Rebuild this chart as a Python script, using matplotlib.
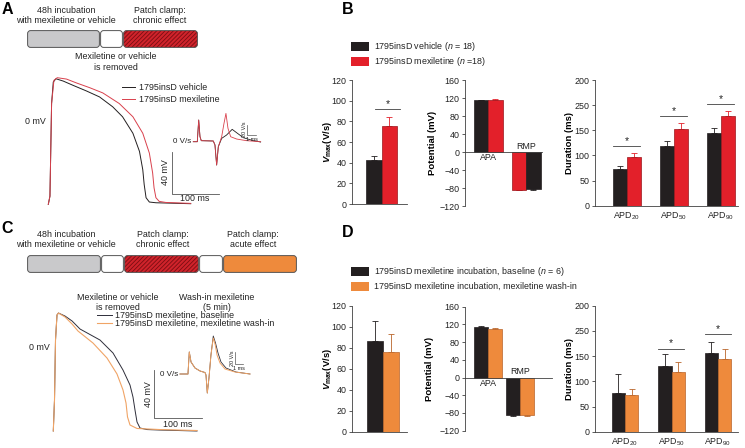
import matplotlib
matplotlib.use('Agg')
import matplotlib.pyplot as plt
from matplotlib.patches import FancyBboxPatch, Rectangle
from matplotlib.lines import Line2D

W, H = 745, 448
plt.rcParams['font.family'] = ['Liberation Sans', 'DejaVu Sans']
plt.rcParams['mathtext.fontset'] = 'custom'
plt.rcParams['mathtext.rm'] = 'Liberation Sans'
plt.rcParams['mathtext.it'] = 'Liberation Sans:italic:bold'
plt.rcParams['mathtext.bf'] = 'Liberation Sans:bold'
plt.rcParams['mathtext.sf'] = 'Liberation Sans:italic'
plt.rcParams['hatch.linewidth'] = 0.6

# ------------------------------------------------------------------ data
# schematic timelines (segment widths, kinds)
tlA_widths = [73, 23, 75]
tlA_kinds = ['grey', 'white', 'hatch']
tlC_widths = [74, 23, 75, 24, 74]
tlC_kinds = ['grey', 'white', 'hatch', 'white', 'orange']

# Panel A action potentials (ms, mV)
apA_veh_t = [0, 3.5, 7, 10.6, 16.2, 31.7, 52.8, 81, 109, 137, 158, 180, 194, 201, 204, 208, 215, 229, 303]
apA_veh_v = [-78.7, -70.9, 17.3, 37.8, 40.9, 38.7, 34.6, 29.3, 23.6, 14.2, 4.7, -11, -28.3, -45.7, -59.8, -72.4, -76.5, -77.2, -78.1]
apA_mex_t = [0, 3.5, 7, 12, 19, 38.7, 60, 88, 116, 151, 180, 201, 215, 222, 225, 229, 236, 250, 303]
apA_mex_v = [-78.7, -70.9, 17.3, 39.4, 41.9, 40.6, 36.9, 32.4, 27.4, 17.3, 4.7, -11, -29.9, -48.8, -63, -72.4, -75.9, -76.9, -77.8]

# Panel A dV/dt inset (ms, V/s)
dvA_veh_t = [0, 0.43, 0.58, 0.72, 0.86, 2.15, 2.33, 2.51, 2.69, 3.05, 3.58, 4.18, 4.66, 5.38, 6.45, 7.24]
dvA_veh_v = [0, 0, 40.5, 9.3, 1.9, 1.3, -6.2, -43.6, -9.3, 6.2, 12.5, 23.1, 16.8, 7.5, 1.9, -0.6]
dvA_mex_t = [0, 0.43, 0.58, 0.72, 0.86, 2.15, 2.33, 2.51, 2.69, 3.05, 3.3, 3.51, 3.73, 4.02, 4.66, 5.73, 7.24]
dvA_mex_v = [0, 0, 40.5, 9.3, 1.9, 1.3, -6.2, -43.6, -9.3, 9.3, 34.2, 52.9, 24.9, 9.3, 5, 1.9, 0]

# Panel C action potentials (ms, mV)
apC_base_t = [0, 2.5, 4.6, 7.7, 10.8, 24.4, 39, 55.6, 97.3, 124.4, 145.2, 159.8, 166, 170.2, 174.4, 180.6, 195.2, 222.3, 299.4]
apC_base_v = [-70, -44.2, 5.8, 26.7, 28.3, 25.8, 21.7, 15, 5.8, -5, -19.2, -31.7, -41.7, -52.5, -62.5, -67.5, -68.8, -69.2, -70]
apC_wash_t = [0, 2.5, 4.6, 7.7, 10.8, 24.4, 39, 51.5, 82.7, 111.9, 132.7, 145.2, 151.5, 154.6, 159.8, 174.4, 222.3, 299.4]
apC_wash_v = [-70, -44.2, 5.8, 26.7, 28.3, 25, 19.2, 13.3, 3.3, -9.2, -22.5, -35.8, -46.7, -58.3, -65, -67.9, -68.8, -69.6]

# Panel C dV/dt inset (ms, V/s)
dvC_base_t = [0, 0.96, 1.12, 1.33, 1.81, 2.41, 3.01, 3.13, 3.29, 3.49, 3.73, 4.01, 4.28, 4.58, 4.94, 5.54, 6.75, 8.43]
dvC_base_v = [0, 0, 35.7, 19.4, 9.7, 4.9, 2.4, -1.6, -30.8, -6.5, 30.8, 61.6, 50.2, 34, 19.4, 9.7, 3.2, 0]
dvC_wash_t = [0, 0.96, 1.12, 1.33, 1.81, 2.41, 3.01, 3.13, 3.29, 3.49, 3.73, 4.01, 4.25, 4.46, 4.82, 5.42, 6.63, 8.43]
dvC_wash_v = [0, 0, 35.7, 19.4, 9.7, 4.9, 2.4, -1.6, -30.8, -6.5, 30.8, 58.3, 47, 30.8, 17.8, 8.1, 3.2, 0]

# Panel B bars
B_vmax = [43, 75]
B_vmax_err = [3, 9]
B_vmax_sig = 92
B_apa = [115, 116]
B_apa_err = [0.7, 1.0]
B_rmp = [-83.7, -82.2]          # mexiletine, vehicle (drawn in this order)
B_rmp_err = [1.3, 1.5]
B_apd_veh = [73, 119, 145]
B_apd_veh_err = [6.6, 9.2, 8.6]
B_apd_mex = [97, 153, 178]
B_apd_mex_err = [8, 11.3, 11.3]
B_apd_sig = [119, 178, 203]

# Panel D bars
D_vmax = [86, 76]
D_vmax_err = [19, 17]
D_apa = [115, 109]
D_apa_err = [2.4, 2.9]
D_rmp = [-83.5, -83.5]
D_rmp_err = [2.3, 2.3]
D_apd_base = [77, 131, 157]
D_apd_base_err = [37, 22.5, 21.5]
D_apd_wash = [73, 118, 144]
D_apd_wash_err = [12, 20.5, 20]
D_apd_sig = [None, 165, 194]

apd_labels = ['APD$_{20}$', 'APD$_{50}$', 'APD$_{90}$']
dur_ticks = [0, 50, 100, 150, 200, 250]
dur_ticklabels = ['0', '50', '100', '150', '250', '200']

# ------------------------------------------------------------------ style
BLACK = '#231f20'
RED = '#e3202a'
RED_EDGE = '#9a161c'
ORANGE = '#ee8a3c'
ORANGE_EDGE = '#b9652b'
GREY = '#c9c9cb'
TR_RED = '#d9404c'
TR_ORANGE = '#f0a466'
TR_DARK = '#2e2e3a'
SPINE = '#404040'
FS = 6.4

fig = plt.figure(figsize=(W / 100, H / 100), dpi=100)


def px_axes(x0, y0, x1, y1):
    return fig.add_axes([x0 / W, 1 - y1 / H, (x1 - x0) / W, (y1 - y0) / H])


def ftext(x, y, s, **kw):
    kw.setdefault('fontsize', FS)
    kw.setdefault('color', '#222222')
    return fig.text(x / W, 1 - y / H, s, **kw)


def fline(xs, ys, **kw):
    fig.add_artist(Line2D([x / W for x in xs], [1 - y / H for y in ys], **kw))


def frect(x0, y0, x1, y1, color):
    fig.add_artist(Rectangle((x0 / W, 1 - y1 / H), (x1 - x0) / W, (y1 - y0) / H,
                             transform=fig.transFigure, facecolor=color, edgecolor='none'))


def draw_timeline(x0, y0, y1, widths, kinds):
    total = sum(widths)
    ax = px_axes(x0, y0, x0 + total, y1)
    h = y1 - y0
    ax.set_xlim(0, total)
    ax.set_ylim(0, h)
    ax.set_axis_off()
    pos = 0
    for w, k in zip(widths, kinds):
        bs = 'round,pad=0,rounding_size=3'
        if k == 'hatch':
            p = FancyBboxPatch((pos + 0.6, 0.6), w - 1.2, h - 1.2, boxstyle=bs,
                               facecolor='#d0232b', edgecolor='#7a0d12', hatch='////////', lw=0)
            ax.add_patch(p)
        else:
            fc = {'grey': GREY, 'white': 'white', 'orange': ORANGE}[k]
            ax.add_patch(FancyBboxPatch((pos + 0.6, 0.6), w - 1.2, h - 1.2, boxstyle=bs,
                                        facecolor=fc, edgecolor='none'))
        ax.add_patch(FancyBboxPatch((pos + 0.6, 0.6), w - 1.2, h - 1.2, boxstyle=bs,
                                    facecolor='none', edgecolor='#555555', lw=0.7))
        pos += w


def style_axes(ax):
    for s in ['top', 'right']:
        ax.spines[s].set_visible(False)
    for s in ['left', 'bottom']:
        ax.spines[s].set_linewidth(0.6)
        ax.spines[s].set_color(SPINE)
    ax.tick_params(labelsize=FS, length=2.5, width=0.6, pad=1.5, color=SPINE, labelcolor='#222222')


def bars(ax, xs, vals, errs, width, fc, ec, errc, up=True):
    ax.bar(xs, vals, width=width, color=fc, edgecolor=ec, linewidth=0.5, zorder=2)
    z = [0] * len(vals)
    yerr = [z, errs] if up else [errs, z]
    ax.errorbar(xs, vals, yerr=yerr, fmt='none', ecolor=errc, elinewidth=0.6,
                capsize=2.0, capthick=0.6, zorder=1)


def sig(ax, x0, x1, y):
    ax.plot([x0, x1], [y, y], color=SPINE, lw=0.6)
    ax.text((x0 + x1) / 2, y, '*', ha='center', va='bottom', fontsize=7.5, color='#222222')


def vmax_axes(box, xc_px, unit, vals, errs, cols, edges, errcols, sigy=None):
    x0, y0, x1, y1 = box
    ax = px_axes(*box)
    style_axes(ax)
    ax.set_xlim((x0 - xc_px) / unit, (x1 - xc_px) / unit)
    ax.set_ylim(0, 120)
    ax.set_yticks(range(0, 121, 20))
    ax.set_xticks([])
    for i, xv in enumerate([-0.5, 0.5]):
        bars(ax, [xv], [vals[i]], [errs[i]], 1.0, cols[i], edges[i], errcols[i])
    if sigy is not None:
        sig(ax, -0.43, 1.2, sigy)
    ax.set_ylabel(r'$\mathit{V}_{\mathbf{max}}\mathbf{(V/s)}$', fontsize=6.8)
    ax.yaxis.set_label_coords(-0.33, 0.5)
    return ax


def pot_axes(box, apa_px, rmp_px, unit, apa, apa_err, rmp, rmp_err, apa_cols, rmp_cols):
    x0, y0, x1, y1 = box
    ax = px_axes(*box)
    style_axes(ax)
    ax.spines['bottom'].set_position(('data', 0))
    ax.set_xlim((x0 - apa_px) / unit, (x1 - apa_px) / unit)
    ax.set_ylim(-120, 160)
    ax.set_yticks(range(-120, 161, 40))
    ax.set_yticklabels(['\u2212120', '\u221280', '\u221240', '0', '40', '80', '120', '160'])
    ax.set_xticks([])
    rc = (rmp_px - apa_px) / unit
    for i, xv in enumerate([-0.5, 0.5]):
        fc, ec, erc = apa_cols[i]
        bars(ax, [xv], [apa[i]], [apa_err[i]], 1.0, fc, ec, erc)
        fc, ec, erc = rmp_cols[i]
        bars(ax, [rc + xv], [rmp[i]], [rmp_err[i]], 1.0, fc, ec, erc, up=False)
    ax.text(0, -3, 'APA', ha='center', va='top', fontsize=FS, color='#222222')
    ax.text(rc, 3, 'RMP', ha='center', va='bottom', fontsize=FS, color='#222222')
    ax.set_ylabel('Potential (mV)', fontsize=6.8, fontweight='bold')
    ax.yaxis.set_label_coords(-0.36, 0.5)
    return ax


def dur_axes(box, c0_px, unit, width, v1, e1, v2, e2, c1, c2, sigs):
    x0, y0, x1, y1 = box
    ax = px_axes(*box)
    style_axes(ax)
    ax.set_xlim((x0 - c0_px) / unit, (x1 - c0_px) / unit)
    ax.set_ylim(0, 250)
    ax.set_yticks(dur_ticks)
    ax.set_yticklabels(dur_ticklabels)
    xs = list(range(len(v1)))
    bars(ax, [x - width / 2 for x in xs], v1, e1, width, c1[0], c1[1], c1[2])
    bars(ax, [x + width / 2 for x in xs], v2, e2, width, c2[0], c2[1], c2[2])
    ax.set_xticks(xs)
    ax.set_xticklabels(apd_labels)
    ax.tick_params(axis='x', length=0, pad=3)
    for x, s in zip(xs, sigs):
        if s is not None:
            sig(ax, x - width * 1.0, x + width * 0.95, s)
    ax.set_ylabel('Duration (ms)', fontsize=6.8, fontweight='bold')
    ax.yaxis.set_label_coords(-0.15, 0.5)
    return ax


def trace_axes(box, t0_px, v0_px, px_per_t, px_per_v):
    x0, y0, x1, y1 = box
    ax = px_axes(*box)
    ax.set_axis_off()
    ax.set_xlim((x0 - t0_px) / px_per_t, (x1 - t0_px) / px_per_t)
    ax.set_ylim((v0_px - y1) / px_per_v, (v0_px - y0) / px_per_v)
    return ax


# ------------------------------------------------------------------ panel letters
for (x, y, s) in [(7, 9, 'A'), (348, 9, 'B'), (7, 228, 'C'), (348, 232, 'D')]:
    ftext(x, y, s, fontsize=11.5, fontweight='bold', ha='center', va='center', color='black')

# ------------------------------------------------------------------ panel A schematic
draw_timeline(27, 30, 48, tlA_widths, tlA_kinds)
ftext(66, 15.5, '48h incubation\nwith mexiletine or vehicle', ha='center', va='center', linespacing=1.25)
ftext(160, 15.5, 'Patch clamp:\nchronic effect', ha='center', va='center', linespacing=1.25)
ftext(116, 62, 'Mexiletine or vehicle\nis removed', ha='center', va='center', linespacing=1.25)

# panel A traces
axA = trace_axes((30, 70, 270, 215), 48.3, 121.7, 0.47, 1.05)
axA.plot(apA_veh_t, apA_veh_v, color=BLACK, lw=0.7)
axA.plot(apA_mex_t, apA_mex_v, color=TR_RED, lw=0.7)
axA.plot([262.6, 262.6, 362.6], [-28.6, -68.6, -68.6], color='#555555', lw=0.6)
ftext(46, 121.7, '0 mV', ha='right', va='center')
ftext(166, 172, '40 mV', ha='center', va='center', rotation=90)
ftext(195, 198, '100 ms', ha='center', va='center')
fline([122, 135], [87.3, 87.3], color=BLACK, lw=0.7)
fline([122, 135], [99.3, 99.3], color=TR_RED, lw=0.7)
ftext(139, 87.3, '1795insD vehicle', ha='left', va='center')
ftext(139, 99.3, '1795insD mexiletine', ha='left', va='center')

axAi = trace_axes((185, 105, 265, 175), 193.3, 141.7, 9.3, 0.535)
axAi.plot(dvA_veh_t, dvA_veh_v, color=BLACK, lw=0.6)
axAi.plot(dvA_mex_t, dvA_mex_v, color=TR_RED, lw=0.6)
axAi.plot([5.77, 5.77, 6.77], [32, 12, 12], color='#555555', lw=0.5)
ftext(191.5, 141.7, '0 V/s', ha='right', va='center', fontsize=5.8)
ftext(244, 129, '20 V/s', ha='center', va='center', rotation=90, fontsize=4)
ftext(251.5, 139, '1 ms', ha='center', va='center', fontsize=4)

# ------------------------------------------------------------------ panel B
frect(351, 42, 369, 51, BLACK)
frect(351, 57, 369, 66, RED)
ftext(374, 46.5, r'1795insD vehicle ($\mathsf{n}$ = 18)', ha='left', va='center')
ftext(374, 61.5, r'1795insD mexiletine ($\mathsf{n}$ =18)', ha='left', va='center')

vmax_axes((352, 80, 407, 204), 381.5, 15.5, B_vmax, B_vmax_err,
          [BLACK, RED], [BLACK, RED_EDGE], [BLACK, RED], sigy=B_vmax_sig)
pot_axes((465, 80, 542, 206), 488, 526, 14.5, B_apa, B_apa_err, B_rmp, B_rmp_err,
         [(BLACK, BLACK, BLACK), (RED, RED_EDGE, RED)],
         [(RED, RED_EDGE, RED), (BLACK, BLACK, BLACK)])
dur_axes((595, 80, 738, 205.7), 627, 47, 0.30, B_apd_veh, B_apd_veh_err, B_apd_mex, B_apd_mex_err,
         (BLACK, BLACK, BLACK), (RED, RED_EDGE, RED), B_apd_sig)

# ------------------------------------------------------------------ panel C schematic
draw_timeline(27, 255, 273, tlC_widths, tlC_kinds)
ftext(66, 239.5, '48h incubation\nwith mexiletine or vehicle', ha='center', va='center', linespacing=1.25)
ftext(163, 239.5, 'Patch clamp:\nchronic effect', ha='center', va='center', linespacing=1.25)
ftext(253, 239.5, 'Patch clamp:\nacute effect', ha='center', va='center', linespacing=1.25)
ftext(118, 302.5, 'Mexiletine or vehicle\nis removed', ha='center', va='center', linespacing=1.25)
ftext(217, 302.5, 'Wash-in mexiletine\n(5 min)', ha='center', va='center', linespacing=1.25)

axC = trace_axes((30, 300, 270, 440), 53.3, 347, 0.48, 1.2)
axC.plot(apC_base_t, apC_base_v, color=TR_DARK, lw=0.7)
axC.plot(apC_wash_t, apC_wash_v, color=TR_ORANGE, lw=0.8)
axC.plot([210.4, 210.4, 310.4], [-19.2, -59.2, -59.2], color='#555555', lw=0.6)
ftext(50, 347, '0 mV', ha='right', va='center')
ftext(148.5, 394, '40 mV', ha='center', va='center', rotation=90)
ftext(178, 424, '100 ms', ha='center', va='center')
fline([97, 112], [315, 315], color=TR_DARK, lw=0.7)
fline([97, 112], [323.3, 323.3], color=TR_ORANGE, lw=0.8)
ftext(115, 315, '1795insD mexiletine, baseline', ha='left', va='center')
ftext(115, 323.3, '1795insD mexiletine, mexiletine wash-in', ha='left', va='center')

axCi = trace_axes((170, 330, 260, 400), 180, 374, 8.3, 0.617)
axCi.plot(dvC_base_t, dvC_base_v, color=TR_DARK, lw=0.6)
axCi.plot(dvC_wash_t, dvC_wash_v, color=TR_ORANGE, lw=0.7)
axCi.plot([6.63, 6.63, 7.63], [36.2, 16.2, 16.2], color='#555555', lw=0.5)
ftext(178, 374, '0 V/s', ha='right', va='center', fontsize=5.8)
ftext(232, 358, '20 V/s', ha='center', va='center', rotation=90, fontsize=4)
ftext(239, 368, '1 ms', ha='center', va='center', fontsize=4)

# ------------------------------------------------------------------ panel D
frect(351, 267, 369, 276, BLACK)
frect(351, 282, 369, 291, ORANGE)
ftext(374, 271.5, r'1795insD mexiletine incubation, baseline ($\mathsf{n}$ = 6)', ha='left', va='center')
ftext(374, 286.5, '1795insD mexiletine incubation, mexiletine wash-in', ha='left', va='center')

vmax_axes((352, 305.7, 407, 431.7), 383, 16, D_vmax, D_vmax_err,
          [BLACK, ORANGE], [BLACK, ORANGE_EDGE], [BLACK, ORANGE_EDGE])
pot_axes((465, 306.7, 552, 430.7), 488.3, 520, 14, D_apa, D_apa_err, D_rmp, D_rmp_err,
         [(BLACK, BLACK, BLACK), (ORANGE, ORANGE_EDGE, ORANGE_EDGE)],
         [(BLACK, BLACK, BLACK), (ORANGE, ORANGE_EDGE, ORANGE_EDGE)])
dur_axes((595, 305.7, 738, 431.7), 625, 46.5, 0.29, D_apd_base, D_apd_base_err, D_apd_wash, D_apd_wash_err,
         (BLACK, BLACK, BLACK), (ORANGE, ORANGE_EDGE, ORANGE_EDGE), D_apd_sig)

fig.savefig('out.png', dpi=100)
